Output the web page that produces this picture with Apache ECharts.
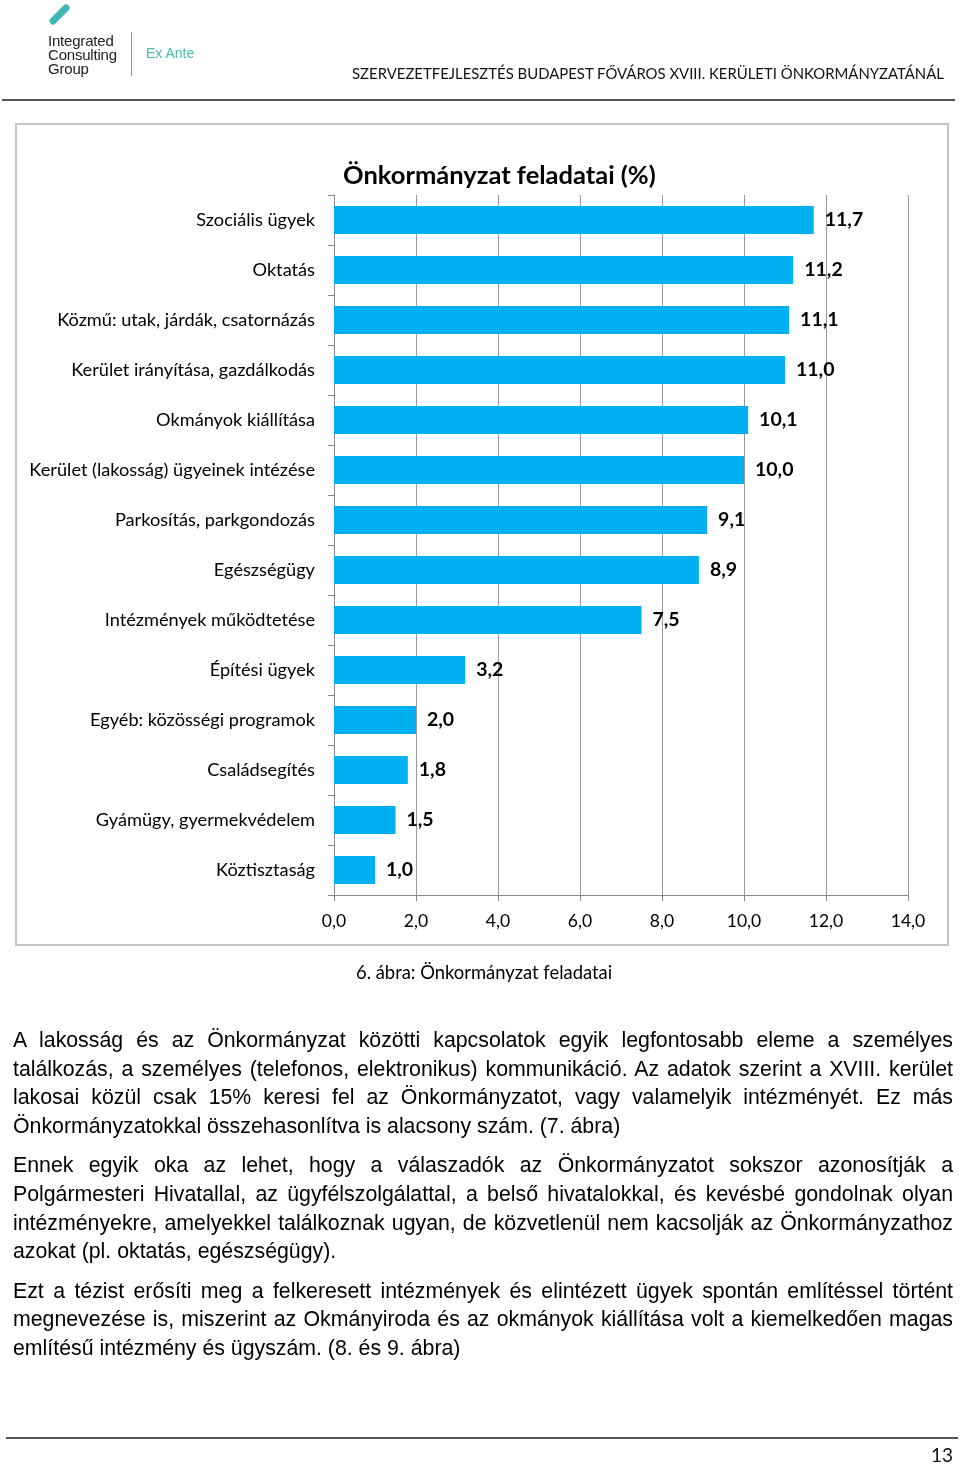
<!DOCTYPE html>
<html><head><meta charset="utf-8">
<script src="https://cdn.jsdelivr.net/npm/echarts@6/dist/echarts.min.js"></script>
<style>
html,body{margin:0;padding:0;background:#fff;}
body{width:960px;height:1466px;position:relative;overflow:hidden;}
#chart{position:absolute;left:0;top:0;width:960px;height:1466px;}
.abs{position:absolute;white-space:nowrap;}
#body{position:absolute;left:13px;top:1026px;width:940px;font-family:"Liberation Sans",Arial,sans-serif;font-size:21.3px;line-height:28.7px;color:#000;}
#body .p{margin:0 0 10.5px 0;}
#body .l{display:block;white-space:nowrap;text-align:justify;text-align-last:justify;}
#body .e{display:block;white-space:nowrap;text-align:left;}
</style></head><body>
<div id="chart"></div>
<div class="abs" style="left:48px;top:34px;font-family:'Liberation Sans',Arial,sans-serif;font-size:15px;line-height:14px;color:#222;letter-spacing:-0.2px;">Integrated<br>Consulting<br>Group</div>
<div class="abs" style="left:131px;top:32px;width:1px;height:44px;background:#4bb8b5;"></div>
<div class="abs" style="left:146px;top:45px;font-family:'Liberation Sans',Arial,sans-serif;font-size:14px;line-height:16px;color:#4bb8b5;">Ex Ante</div>
<div class="abs" style="left:352px;top:63px;font-family:Lato,sans-serif;font-size:14.9px;line-height:20px;color:#111;">SZERVEZETFEJLESZTÉS BUDAPEST FŐVÁROS XVIII. KERÜLETI ÖNKORMÁNYZATÁNÁL</div>
<div class="abs" style="left:2px;top:99px;width:953px;height:2px;background:#555;"></div>
<div class="abs" style="left:356px;top:960px;font-family:Lato,sans-serif;font-size:18.4px;line-height:24px;color:#000;">6. ábra: Önkormányzat feladatai</div>
<div id="body">
<div class="p">
<span class="l">A lakosság és az Önkormányzat közötti kapcsolatok egyik legfontosabb eleme a személyes</span>
<span class="l">találkozás, a személyes (telefonos, elektronikus) kommunikáció. Az adatok szerint a XVIII. kerület</span>
<span class="l">lakosai közül csak 15% keresi fel az Önkormányzatot, vagy valamelyik intézményét. Ez más</span>
<span class="e">Önkormányzatokkal összehasonlítva is alacsony szám. (7. ábra)</span>
</div>
<div class="p">
<span class="l">Ennek egyik oka az lehet, hogy a válaszadók az Önkormányzatot sokszor azonosítják a</span>
<span class="l">Polgármesteri Hivatallal, az ügyfélszolgálattal, a belső hivatalokkal, és kevésbé gondolnak olyan</span>
<span class="l">intézményekre, amelyekkel találkoznak ugyan, de közvetlenül nem kacsolják az Önkormányzathoz</span>
<span class="e">azokat (pl. oktatás, egészségügy).</span>
</div>
<div class="p">
<span class="l">Ezt a tézist erősíti meg a felkeresett intézmények és elintézett ügyek spontán említéssel történt</span>
<span class="l">megnevezése is, miszerint az Okmányiroda és az okmányok kiállítása volt a kiemelkedően magas</span>
<span class="e">említésű intézmény és ügyszám. (8. és 9. ábra)</span>
</div>
</div>
<div class="abs" style="left:6px;top:1437px;width:952px;height:2px;background:#555;"></div>
<div class="abs" style="left:931px;top:1444px;font-family:Lato,sans-serif;font-size:19px;line-height:22px;color:#111;">13</div>
<script>
const categories = ["Szociális ügyek","Oktatás","Közmű: utak, járdák, csatornázás","Kerület irányítása, gazdálkodás","Okmányok kiállítása","Kerület (lakosság) ügyeinek intézése","Parkosítás, parkgondozás","Egészségügy","Intézmények működtetése","Építési ügyek","Egyéb: közösségi programok","Családsegítés","Gyámügy, gyermekvédelem","Köztisztaság"];
const values = [11.7,11.2,11.1,11.0,10.1,10.0,9.1,8.9,7.5,3.2,2.0,1.8,1.5,1.0];
const axisMin = 0, axisMax = 14, axisStep = 2;
const title = "Önkormányzat feladatai (%)";
const fmt = v => v.toFixed(1).replace('.', ',');

const chart = echarts.init(document.getElementById('chart'), null, {renderer:'canvas'});
chart.setOption({
  animation:false,
  textStyle:{fontFamily:'Lato, sans-serif'},
  title:{text:title,left:338,top:158,textStyle:{fontFamily:'Lato, sans-serif',fontSize:25.5,fontWeight:'bold',color:'#000'}},
  graphic:[
    {type:'rect',shape:{x:16,y:124,width:932,height:821},style:{fill:'none',stroke:'#c4c4c4',lineWidth:2}},
    {type:'line',shape:{x1:53,y1:21,x2:66,y2:8},style:{stroke:'#3fb6b2',lineWidth:7,lineCap:'round'}}
  ],
  grid:{left:334,right:52,top:195,bottom:571,containLabel:false},
  xAxis:{type:'value',min:axisMin,max:axisMax,interval:axisStep,
    axisLine:{show:true,lineStyle:{color:'#888',width:1}},
    axisTick:{show:true,length:6,lineStyle:{color:'#888'}},
    splitLine:{show:true,lineStyle:{color:'#999',width:1}},
    axisLabel:{margin:17,fontSize:17.5,color:'#000',fontFamily:'Lato, sans-serif',formatter:v=>fmt(v)}},
  yAxis:{type:'category',data:categories,inverse:true,
    axisLine:{show:true,lineStyle:{color:'#888',width:1}},
    axisTick:{show:true,length:6,lineStyle:{color:'#888'}},
    axisLabel:{margin:19,fontSize:18.2,color:'#000',fontFamily:'Lato, sans-serif'}},
  series:[{type:'bar',data:values,barWidth:28,itemStyle:{color:'#00b0f0'},
    label:{show:true,position:'right',distance:11,fontSize:19.5,fontWeight:'bold',color:'#000',fontFamily:'Lato, sans-serif',formatter:p=>fmt(p.value)}}]
});
</script>
</body></html>
